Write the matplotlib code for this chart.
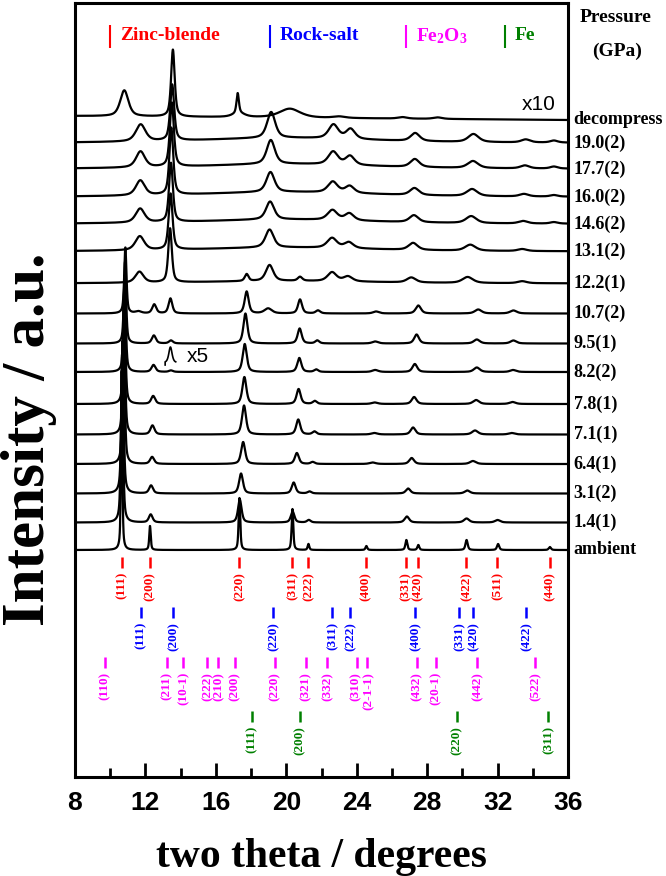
import numpy as np
import matplotlib
matplotlib.use('Agg')
import matplotlib.pyplot as plt

SERIF = ['Liberation Serif', 'DejaVu Serif']
SANS = ['Liberation Sans', 'DejaVu Sans']
plt.rcParams['mathtext.fontset'] = 'custom'
plt.rcParams['mathtext.rm'] = 'Liberation Serif:bold'
plt.rcParams['mathtext.bf'] = 'Liberation Serif:bold'
plt.rcParams['mathtext.it'] = 'Liberation Serif:bold:italic'

# pressure steps, bottom to top
pressures = ['ambient', '1.4(1)', '3.1(2)', '6.4(1)', '7.1(1)', '7.8(1)', '8.2(2)',
             '9.5(1)', '10.7(2)', '12.2(1)', '13.1(2)', '14.6(2)', '16.0(2)',
             '17.7(2)', '19.0(2)', 'decompress']
offsets = [227, 254.5, 283.5, 313, 342.5, 373, 405, 433.5, 463.5, 493.5,
           525.5, 553, 580, 608, 634, 661]
tilts = [0] * 15 + [-4]

# peaks: (two theta, height, fwhm)
pk_amb = [(10.65, 180, 0.09), (12.26, 24, 0.1), (17.34, 52, 0.11), (20.35, 41, 0.11),
          (21.26, 6, 0.11), (24.55, 4, 0.12), (26.82, 10, 0.13), (27.50, 5, 0.13),
          (30.24, 10, 0.15), (32.03, 6, 0.15), (34.97, 3, 0.15)]
pk_14 = [(10.67, 168, 0.14), (12.30, 8, 0.25), (17.36, 23, 0.24), (20.36, 11, 0.24),
         (21.28, 2.5, 0.25), (26.85, 6, 0.3), (30.24, 4, 0.35), (32.0, 2.5, 0.35)]
pk_31 = [(10.70, 153, 0.15), (12.32, 8, 0.26), (17.43, 20, 0.26), (20.42, 11, 0.26),
         (21.32, 2, 0.26), (26.92, 5, 0.3), (30.28, 3, 0.35)]
pk_64 = [(10.76, 144, 0.15), (12.38, 7, 0.27), (17.55, 22, 0.27), (20.60, 11, 0.27),
         (21.50, 2, 0.27), (24.9, 1.5, 0.4), (27.12, 6, 0.32), (30.6, 3, 0.4)]
pk_71 = [(10.78, 130, 0.15), (12.40, 9, 0.27), (17.60, 29, 0.27), (20.68, 15, 0.27),
         (21.60, 3, 0.27), (25.0, 1.5, 0.4), (27.20, 7, 0.32), (30.72, 4, 0.4),
         (32.8, 1.5, 0.4)]
pk_78 = [(10.80, 114, 0.15), (12.44, 8, 0.27), (17.62, 27, 0.27), (20.70, 15, 0.27),
         (21.62, 3, 0.27), (25.02, 1.5, 0.4), (27.26, 7, 0.32), (30.78, 4, 0.4),
         (32.85, 2, 0.4)]
pk_82 = [(10.82, 97, 0.15), (12.46, 7, 0.27), (13.45, 1.5, 0.27), (17.64, 28, 0.27),
         (20.74, 14, 0.27), (21.70, 2.5, 0.27), (25.05, 2, 0.4), (27.30, 8, 0.32),
         (30.82, 4.5, 0.4), (32.88, 2, 0.4)]
pk_95 = [(10.84, 82, 0.15), (12.48, 8, 0.27), (13.45, 3, 0.27), (17.68, 30, 0.27),
         (20.76, 15, 0.27), (21.76, 3, 0.27), (25.05, 2, 0.4), (27.40, 9, 0.32),
         (30.82, 4, 0.4), (32.9, 3, 0.4)]
pk_107 = [(10.86, 66, 0.15), (11.6, 2, 0.4), (12.50, 9, 0.27), (13.42, 15, 0.25),
          (17.75, 22, 0.27), (18.97, 5, 0.5), (20.78, 14, 0.27), (21.8, 3, 0.3),
          (25.1, 2, 0.4), (27.50, 8, 0.35), (30.9, 4, 0.45), (32.9, 3, 0.45)]
pk_122 = [(11.66, 11, 0.55), (13.40, 54, 0.24), (17.75, 7, 0.25), (19.05, 16, 0.5),
          (20.78, 4, 0.3), (22.60, 9, 0.6), (23.5, 5, 0.6), (27.10, 5, 0.6),
          (30.30, 6, 0.7), (33.4, 2, 0.6), (20.0, 2.5, 12)]
pk_131 = [(11.68, 14, 0.6), (13.43, 56, 0.26), (19.05, 18, 0.55), (22.60, 10, 0.65),
          (23.55, 6, 0.6), (27.20, 7, 0.6), (30.45, 6, 0.7), (33.4, 2, 0.6),
          (20.0, 4, 12)]
pk_146 = [(11.70, 14, 0.6), (13.45, 59, 0.26), (19.08, 18, 0.55), (22.62, 10, 0.65),
          (23.58, 7, 0.6), (27.25, 7, 0.6), (30.50, 7, 0.7), (33.45, 2.5, 0.6),
          (35.2, 1.5, 0.5), (20.0, 4.5, 12)]
pk_160 = [(11.71, 15, 0.6), (13.47, 67, 0.26), (19.10, 20, 0.55), (22.64, 11, 0.65),
          (23.60, 7, 0.6), (27.28, 7, 0.6), (30.55, 7, 0.7), (33.5, 2.5, 0.6),
          (35.2, 1.5, 0.5), (20.0, 5, 12)]
pk_177 = [(11.72, 16, 0.6), (13.50, 64, 0.27), (19.12, 24, 0.55), (22.66, 13, 0.65),
          (23.62, 9, 0.6), (27.30, 8, 0.6), (30.60, 7, 0.7), (33.55, 3, 0.6),
          (35.2, 2, 0.5), (20.0, 5, 12)]
pk_190 = [(11.73, 17, 0.65), (13.52, 56, 0.27), (19.14, 26, 0.55), (22.68, 14, 0.65),
          (23.65, 10, 0.6), (27.32, 8, 0.6), (30.63, 8, 0.7), (33.6, 3, 0.6),
          (35.2, 2, 0.5), (20.0, 5, 12)]
pk_dec = [(10.80, 26, 0.55), (13.56, 67, 0.24), (17.24, 20, 0.16), (17.3, 4, 0.8),
          (20.2, 9, 1.4), (23.0, 1.5, 0.8), (26.6, 1.5, 0.6), (28.6, 1.5, 0.6)]
patterns = [pk_amb, pk_14, pk_31, pk_64, pk_71, pk_78, pk_82, pk_95, pk_107,
            pk_122, pk_131, pk_146, pk_160, pk_177, pk_190, pk_dec]

# reference reflections
zb_pos = [10.65, 12.26, 17.34, 20.35, 21.26, 24.53, 26.79, 27.47, 30.22, 31.99, 34.95]
zb_hkl = ['(111)', '(200)', '(220)', '(311)', '(222)', '(400)', '(331)', '(420)',
          '(422)', '(511)', '(440)']
rs_pos = [11.75, 13.59, 19.27, 22.62, 23.63, 27.32, 29.82, 30.63, 33.63]
rs_hkl = ['(111)', '(200)', '(220)', '(311)', '(222)', '(400)', '(331)', '(420)', '(422)']
fe2o3_pos = [9.70, 13.21, 14.15, 15.52, 16.14, 17.09, 19.36, 21.11, 22.34, 24.04,
             24.56, 27.41, 28.51, 30.86, 34.14]
fe2o3_hkl = ['(110)', '(211)', '(10-1)', '(222)', '(210)', '(200)', '(220)', '(321)',
             '(332)', '(310)', '(2-1-1)', '(432)', '(20-1)', '(442)', '(522)']
fe_pos = [18.04, 20.78, 29.69, 34.89]
fe_hkl = ['(111)', '(200)', '(220)', '(311)']

phase_names = ['Zinc-blende', 'Rock-salt', r'Fe$_{2}$O$_{3}$', 'Fe']
phase_colors = ['#ff0000', '#0000ff', '#ff00ff', '#008000']


def profile(x, peaks, eta=0.6):
    y = np.zeros_like(x)
    for c, h, w in peaks:
        d = (x - c) / (w / 2)
        y += h * (eta / (1 + d ** 2) + (1 - eta) * np.exp(-np.log(2) * d ** 2))
    return y


fig = plt.figure(figsize=(6.66, 8.76), dpi=100)
ax = fig.add_axes([75 / 666, 1 - 777 / 876, 493 / 666, 774 / 876])

x = np.linspace(8, 36, 4000)
for off, tilt, pk, lab in zip(offsets, tilts, patterns, pressures):
    ax.plot(x, off + tilt * (x - 8) / 28 + profile(x, pk), color='k', lw=1.6)
    ax.annotate(lab, xy=(36, off + tilt), xytext=(4, 0), textcoords='offset points',
                ha='left', va='center', fontsize=13, fontweight='bold', family=SERIF,
                annotation_clip=False)

# reflection markers below the patterns
row_tops = [220, 170, 120, 66]
rows = [(zb_pos, zb_hkl), (rs_pos, rs_hkl), (fe2o3_pos, fe2o3_hkl), (fe_pos, fe_hkl)]
nudge = {(2, '(310)'): -1.5, (2, '(2-1-1)'): 1.5}   # crowded pair, pushed apart a bit
for i, ((pos, hkl), col, top) in enumerate(zip(rows, phase_colors, row_tops)):
    ax.vlines(pos, top - 11, top, color=col, lw=1.8)
    for p, h in zip(pos, hkl):
        ax.annotate(h, xy=(p, top - 15), xytext=(nudge.get((i, h), 0), 0),
                    textcoords='offset points', rotation=90, ha='center', va='top',
                    color=col, fontsize=9.5, fontweight='bold', family=SERIF)

# legend row at the top
leg_x = [10.0, 19.08, 26.8, 32.4]
for lx, name, col in zip(leg_x, phase_names, phase_colors):
    ax.vlines(lx, 729, 752, color=col, lw=1.5)
    ax.annotate(name, xy=(lx, 741), xytext=(7, 0), textcoords='offset points',
                ha='left', va='center', color=col, fontsize=14, fontweight='bold',
                family=SERIF)

ax.text(34.33, 672, 'x10', ha='center', va='center', fontsize=15, family=SANS)
ax.text(14.96, 420, 'x5', ha='center', va='center', fontsize=15, family=SANS)
gx = np.linspace(-0.3, 0.3, 60)
ax.plot(np.r_[13.12, 13.42 + gx], np.r_[412, 414 + 16 * profile(gx, [(0, 1, 0.22)])],
        color='k', lw=1.2)

fig.text(616 / 666, 1 - 18 / 876, 'Pressure', ha='center', va='center', fontsize=14,
         fontweight='bold', family=SERIF)
fig.text(617 / 666, 1 - 51 / 876, '(GPa)', ha='center', va='center', fontsize=14,
         fontweight='bold', family=SERIF)

ax.set_xlim(8, 36)
ax.set_ylim(0, 774)
ax.set_xticks(np.arange(8, 37, 4))
ax.set_xticks(np.arange(10, 36, 4), minor=True)
ax.tick_params(axis='x', which='both', direction='in', top=False, width=2, pad=10)
ax.tick_params(axis='x', which='major', length=10)
ax.tick_params(axis='x', which='minor', length=6.5)
ax.set_yticks([])
for lab in ax.get_xticklabels():
    lab.set_fontfamily(SANS)
    lab.set_fontweight('bold')
    lab.set_fontsize(19)
for s in ax.spines.values():
    s.set_linewidth(2.2)

fig.text(321.5 / 666, 1 - 857 / 876, 'two theta / degrees', ha='center', va='center',
         fontsize=30, fontweight='bold', family=SERIF)
fig.text(29 / 666, 1 - 439 / 876, 'Intensity / a.u.', ha='center', va='center',
         rotation=90, fontsize=44, fontweight='bold', family=SERIF)

fig.savefig('out.png', dpi=100)
